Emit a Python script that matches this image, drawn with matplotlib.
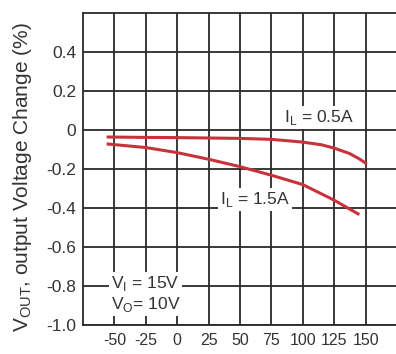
import matplotlib.pyplot as plt
import numpy as np

# Temperature (C) and output voltage change (%)
temp_05 = [-55, -25, 0, 25, 50, 75, 100, 115, 125, 137, 145, 150]
dv_05 = [-0.036, -0.038, -0.039, -0.041, -0.043, -0.048, -0.062, -0.076, -0.093, -0.12, -0.148, -0.17]
temp_15 = [-55, -50, -25, 0, 25, 50, 75, 100, 125, 144]
dv_15 = [-0.072, -0.075, -0.09, -0.116, -0.15, -0.188, -0.232, -0.28, -0.36, -0.43]

xticks = [-50, -25, 0, 25, 50, 75, 100, 125, 150]
yticks = [-1.0, -0.8, -0.6, -0.4, -0.2, 0, 0.2, 0.4]
ytick_labels = ['-1.0', '-0.8', '-0.6', '-0.4', '-0.2', '0', '0.2', '0.4']
xtick_labels = ['-50', '-25', '0', '25', '50', '75', '100', '125', '150']

plt.rcParams['font.family'] = ['Liberation Sans', 'DejaVu Sans']
plt.rcParams['axes.unicode_minus'] = False

fig = plt.figure(figsize=(3.96, 3.54), dpi=100)
ax = fig.add_axes([83/396, 29/354, 314/396, 312/354])

ax.set_xlim(-75, 175)
ax.set_ylim(-1.0, 0.6)
ax.set_xticks(xticks)
ax.set_xticklabels(xtick_labels)
ax.set_yticks(yticks)
ax.set_yticklabels(ytick_labels)
ax.tick_params(length=0, labelsize=12.5, colors='#333333', pad=5)
ax.tick_params(axis='x', labelsize=11.5, pad=6)
ax.grid(True, color='#2a2a2a', linewidth=1.3)
for s in ax.spines.values():
    s.set_color('#2a2a2a')
    s.set_linewidth(1.3)
ax.spines['right'].set_visible(False)

ax.plot(temp_05, dv_05, color='#c8323a', linewidth=2.2)
ax.plot(temp_15, dv_15, color='#c8323a', linewidth=2.2)

box = dict(facecolor='white', edgecolor='none', pad=1.5)
ax.text(113, 0.065, r'I$_\mathregular{L}$ = 0.5A', fontsize=12.5, color='#333333',
        ha='center', va='center', bbox=box)
ax.text(62, -0.355, r'I$_\mathregular{L}$ = 1.5A', fontsize=12.5, color='#333333',
        ha='center', va='center', bbox=box)
ax.text(-53, -0.84, 'V$_\\mathregular{I}$ = 15V\nV$_\\mathregular{O}$= 10V', fontsize=12.5,
        color='#333333', ha='left', va='center', linespacing=1.1, bbox=box)

fig.text(0.057, 0.5, r'V$_\mathregular{OUT}$, output Voltage Change (%)', rotation=90,
         fontsize=15, color='#333333', ha='center', va='center')

fig.savefig('out.png', dpi=100)
